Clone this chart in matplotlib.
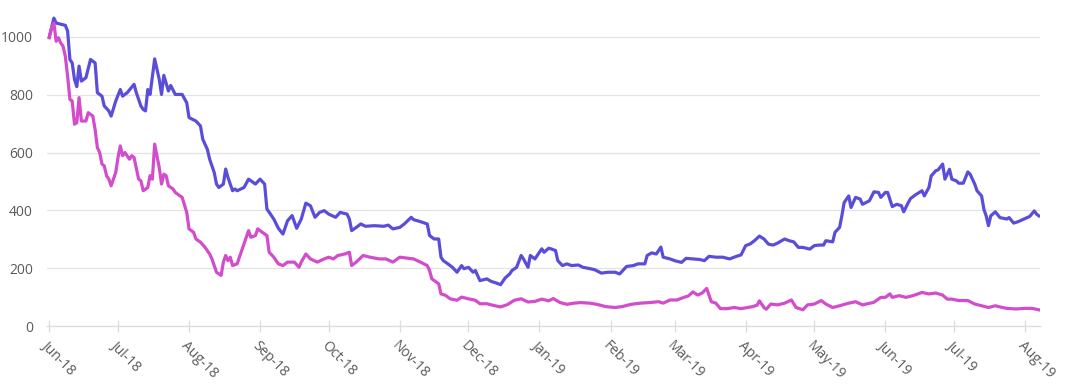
import matplotlib
matplotlib.use("Agg")
import matplotlib.pyplot as plt
import pandas as pd

start_date = "2018-06-01"

blue_day = [0, 2, 3, 7, 8, 9, 10, 11, 12, 13, 14, 16, 18, 20, 21, 23, 24, 26, 27, 29,
            31, 32, 34, 37, 38, 40, 41, 42, 43, 44, 46, 48, 49, 50, 52, 53, 55, 58, 60, 61,
            63, 64, 66, 67, 69, 70, 72, 73, 74, 76, 77, 78, 80, 81, 82, 85, 87, 90, 92, 94,
            95, 98, 100, 102, 104, 106, 108, 110, 112, 114, 116, 118, 120, 122, 125, 127, 130, 131, 132, 134,
            136, 138, 142, 146, 148, 150, 153, 155, 158, 159, 162, 165, 166, 168, 170, 171, 172, 174, 176, 178,
            180, 181, 183, 185, 186, 188, 191, 193, 195, 197, 199, 201, 202, 204, 206, 207, 209, 210, 212, 215,
            216, 218, 219, 221, 222, 224, 226, 228, 231, 233, 235, 238, 241, 244, 247, 249, 252, 255, 257, 260,
            261, 263, 265, 267, 268, 271, 273, 276, 278, 281, 284, 286, 288, 291, 294, 297, 300, 302, 304, 306,
            308, 310, 312, 314, 316, 318, 321, 323, 325, 327, 329, 332, 334, 336, 338, 339, 342, 343, 345, 346,
            347, 349, 350, 352, 354, 355, 358, 360, 362, 363, 365, 366, 368, 370, 372, 373, 375, 376, 378, 381,
            382, 384, 385, 387, 388, 390, 391, 393, 394, 396, 397, 399, 401, 402, 404, 405, 407, 408, 409, 410,
            411, 413, 415, 418, 419, 421, 423, 426, 428, 430, 431, 432]
blue_val = [1000, 1065, 1048, 1040, 1020, 922, 910, 853, 828, 899, 847, 859, 922, 910, 807, 795, 761, 744, 726, 778,
            818, 795, 807, 836, 807, 761, 749, 744, 818, 801, 924, 853, 801, 867, 813, 832, 801, 801, 772, 721,
            713, 709, 692, 646, 611, 577, 531, 491, 479, 491, 543, 514, 468, 474, 468, 479, 508, 491, 508, 491,
            405, 370, 338, 318, 364, 382, 338, 370, 425, 416, 376, 393, 399, 387, 376, 393, 387, 370, 330, 341,
            353, 345, 347, 345, 349, 336, 341, 353, 376, 368, 361, 353, 313, 301, 301, 238, 226, 215, 203, 186,
            209, 198, 203, 186, 192, 157, 163, 154, 149, 143, 166, 180, 192, 203, 244, 232, 203, 244, 232, 267,
            255, 269, 267, 261, 226, 209, 215, 209, 211, 203, 200, 195, 183, 186, 186, 180, 206, 209, 215, 215,
            244, 253, 249, 273, 238, 232, 226, 220, 234, 232, 230, 226, 241, 238, 238, 232, 241, 246, 278, 284,
            296, 311, 301, 283, 280, 287, 301, 295, 291, 272, 272, 266, 278, 280, 280, 295, 291, 324, 341, 381,
            427, 450, 410, 445, 439, 421, 433, 464, 462, 445, 462, 462, 413, 421, 416, 395, 427, 441, 453, 468,
            450, 479, 519, 537, 540, 560, 508, 542, 508, 502, 494, 494, 533, 525, 491, 468, 450, 404, 381, 347,
            381, 395, 375, 370, 375, 356, 361, 372, 379, 398, 387, 381]

pink_day = [0, 1, 2, 3, 4, 5, 6, 7, 8, 9, 10, 11, 12, 13, 14, 16, 17, 19, 20, 21,
            22, 23, 24, 25, 26, 27, 29, 30, 31, 32, 33, 35, 36, 37, 39, 40, 41, 43, 44, 45,
            46, 48, 49, 50, 51, 52, 54, 55, 56, 58, 60, 61, 63, 64, 66, 68, 70, 71, 72, 73,
            75, 76, 77, 78, 79, 80, 82, 83, 85, 87, 88, 90, 91, 93, 95, 96, 98, 100, 102, 104,
            107, 109, 110, 112, 114, 117, 120, 122, 124, 126, 129, 131, 132, 134, 137, 140, 144, 147, 150, 153,
            157, 159, 162, 165, 166, 167, 170, 171, 173, 175, 178, 180, 183, 186, 188, 191, 194, 197, 200, 203,
            206, 209, 212, 215, 218, 220, 223, 226, 229, 232, 236, 239, 243, 247, 250, 254, 258, 262, 266, 268,
            271, 274, 277, 279, 281, 283, 285, 287, 289, 291, 293, 296, 299, 302, 305, 307, 309, 310, 312, 313,
            315, 318, 321, 324, 326, 329, 331, 334, 337, 339, 342, 345, 349, 352, 355, 360, 363, 365, 367, 368,
            371, 374, 377, 381, 384, 387, 390, 392, 394, 397, 401, 404, 407, 410, 413, 416, 418, 422, 426, 429,
            432]
pink_val = [997, 1031, 1048, 985, 997, 979, 968, 933, 864, 784, 778, 698, 703, 790, 709, 709, 738, 726, 680, 617,
            600, 560, 554, 520, 508, 485, 531, 583, 623, 589, 600, 577, 589, 583, 508, 502, 468, 479, 520, 508,
            629, 548, 491, 525, 520, 485, 474, 462, 456, 445, 393, 336, 324, 301, 290, 272, 249, 232, 209, 186,
            175, 221, 244, 226, 238, 209, 215, 238, 284, 330, 307, 313, 336, 324, 313, 255, 238, 215, 209, 221,
            221, 203, 221, 249, 232, 221, 232, 238, 232, 244, 249, 255, 209, 221, 244, 238, 232, 232, 221, 238,
            234, 232, 221, 209, 192, 163, 146, 111, 106, 94, 89, 100, 94, 89, 77, 77, 71, 66, 74, 89,
            94, 83, 85, 93, 87, 95, 81, 75, 79, 81, 79, 75, 67, 64, 67, 75, 79, 81, 84, 79,
            90, 90, 99, 104, 118, 107, 114, 130, 84, 79, 60, 60, 64, 60, 64, 67, 72, 87, 64, 58,
            76, 73, 79, 90, 64, 56, 73, 76, 88, 76, 64, 70, 79, 84, 73, 82, 99, 99, 111, 99,
            105, 99, 105, 116, 111, 114, 107, 93, 93, 88, 88, 76, 70, 64, 70, 64, 61, 59, 61, 61,
            56]

tick_labels = ["Jun-18", "Jul-18", "Aug-18", "Sep-18", "Oct-18", "Nov-18", "Dec-18",
               "Jan-19", "Feb-19", "Mar-19", "Apr-19", "May-19", "Jun-19", "Jul-19", "Aug-19"]
y_ticks = [0, 200, 400, 600, 800, 1000]

plt.rcParams['font.family'] = ['Open Sans', 'DejaVu Sans']

t0 = pd.Timestamp(start_date)
bx = t0 + pd.to_timedelta(blue_day, unit="D")
px = t0 + pd.to_timedelta(pink_day, unit="D")
month_ticks = pd.date_range(start_date, periods=len(tick_labels), freq="MS")

fig = plt.figure(figsize=(10.8, 3.89), dpi=100)
ax = fig.add_axes([47/1080, 63/389, 993/1080, 318/389])

ax.plot(bx, blue_val, color="#5a4ed9", lw=2.3, solid_joinstyle="round", zorder=3)
ax.plot(px, pink_val, color="#d24ccb", lw=2.3, solid_joinstyle="round", zorder=3)

ax.set_ylim(0, 1100)
ax.set_xlim(t0 - pd.Timedelta(days=1), t0 + pd.Timedelta(days=432.5))
ax.set_yticks(y_ticks)
ax.set_yticklabels([str(v) for v in y_ticks])
ax.set_xticks(month_ticks)
ax.set_xticklabels(tick_labels, rotation=-45, ha="left", va="top", rotation_mode="anchor")

ax.grid(axis="y", color="#e3e3e3", lw=0.9)
ax.set_axisbelow(True)
for s in ["top", "right", "left"]:
    ax.spines[s].set_visible(False)
ax.spines["bottom"].set_color("#dcdcdc")
ax.spines["bottom"].set_linewidth(0.9)

ax.tick_params(axis="y", length=0, pad=10, labelsize=10, labelcolor="#5a5a5a")
ax.tick_params(axis="x", direction="inout", length=8, width=0.9, color="#dcdcdc",
               pad=5, labelsize=10, labelcolor="#5a5a5a")

fig.savefig("out.png", dpi=100, facecolor="white")
